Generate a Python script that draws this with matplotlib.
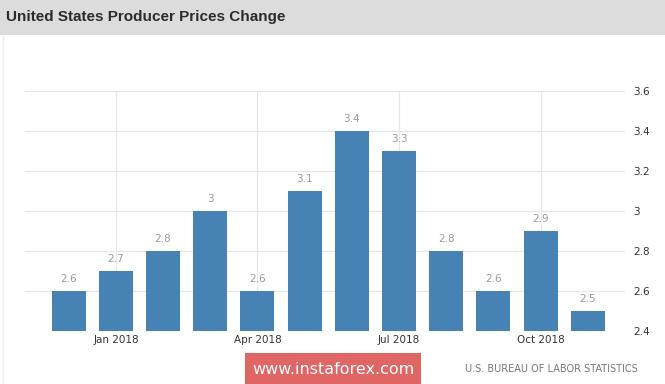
"""
United States Producer Prices Change - bar chart recreation.
"""

import matplotlib

matplotlib.use("Agg")
import matplotlib.pyplot as plt
from matplotlib.patches import Rectangle

# Data: year-over-year change, Dec 2017 .. Nov 2018
months = [
    "Dec 2017", "Jan 2018", "Feb 2018", "Mar 2018", "Apr 2018", "May 2018",
    "Jun 2018", "Jul 2018", "Aug 2018", "Sep 2018", "Oct 2018", "Nov 2018",
]
values = [2.6, 2.7, 2.8, 3.0, 2.6, 3.1, 3.4, 3.3, 2.8, 2.6, 2.9, 2.5]
value_labels = ["2.6", "2.7", "2.8", "3", "2.6", "3.1", "3.4", "3.3", "2.8", "2.6", "2.9", "2.5"]
shown_ticks = ["Jan 2018", "Apr 2018", "Jul 2018", "Oct 2018"]
y_ticks = [2.4, 2.6, 2.8, 3.0, 3.2, 3.4, 3.6]
y_tick_labels = ["2.4", "2.6", "2.8", "3", "3.2", "3.4", "3.6"]

W, H = 665, 384
fig = plt.figure(figsize=(W / 100, H / 100), dpi=100)
fig.patch.set_facecolor("white")

# Header band
fig.patches.append(
    Rectangle((0, 1 - 35 / H), 1, 35 / H, transform=fig.transFigure,
              facecolor="#dcdcdc", edgecolor="none", zorder=0)
)
fig.text(6 / W, 1 - 17.5 / H, "United States Producer Prices Change",
         fontsize=11, fontweight="bold", color="#2b2b2b",
         family="Liberation Sans", va="center", ha="left")

# faint left border of the chart panel
fig.add_artist(plt.Line2D([3 / W, 3 / W], [0, 1 - 35 / H],
                          transform=fig.transFigure, color="#f0f0f0", lw=1))

# Plot area
ax = fig.add_axes([25 / W, (H - 331) / H, 600 / W, 240 / H])
x = list(range(len(months)))
ax.bar(x, [v - 2.4 for v in values], bottom=2.4, width=0.72,
       color="#4682b4", zorder=3)

for xi, v, lab in zip(x, values, value_labels):
    ax.text(xi, v + 0.035, lab, ha="center", va="bottom",
            fontsize=7.5, color="#999999", family="DejaVu Sans")

ax.set_xlim(-0.926, 11.79)
ax.set_ylim(2.4, 3.6)

tick_pos = [months.index(m) for m in shown_ticks]
ax.set_xticks(tick_pos)
ax.set_xticklabels(shown_ticks, fontsize=7.5, color="#333333", family="DejaVu Sans")
ax.set_yticks(y_ticks)
ax.set_yticklabels(y_tick_labels, fontsize=7.5, color="#333333", family="DejaVu Sans")
ax.yaxis.tick_right()
ax.tick_params(axis="both", length=0)
ax.tick_params(axis="x", pad=3)
ax.tick_params(axis="y", pad=6)

ax.grid(True, color="#e6e6e6", linewidth=0.8, zorder=0)
for spine in ax.spines.values():
    spine.set_visible(False)
ax.set_facecolor("none")

# Footer: watermark and source
fig.patches.append(
    Rectangle((245 / W, 0), 176 / W, 31 / H, transform=fig.transFigure,
              facecolor="#e06666", edgecolor="none", zorder=2)
)
fig.text(333 / W, (H - 369) / H, "www.instaforex.com", fontsize=11.5,
         color="white", ha="center", va="center", family="DejaVu Sans", zorder=3)
fig.text(638 / W, (H - 369) / H, "U.S. BUREAU OF LABOR STATISTICS",
         fontsize=7, color="#777777", ha="right", va="center",
         family="DejaVu Sans")

fig.savefig("out.png", dpi=100)
